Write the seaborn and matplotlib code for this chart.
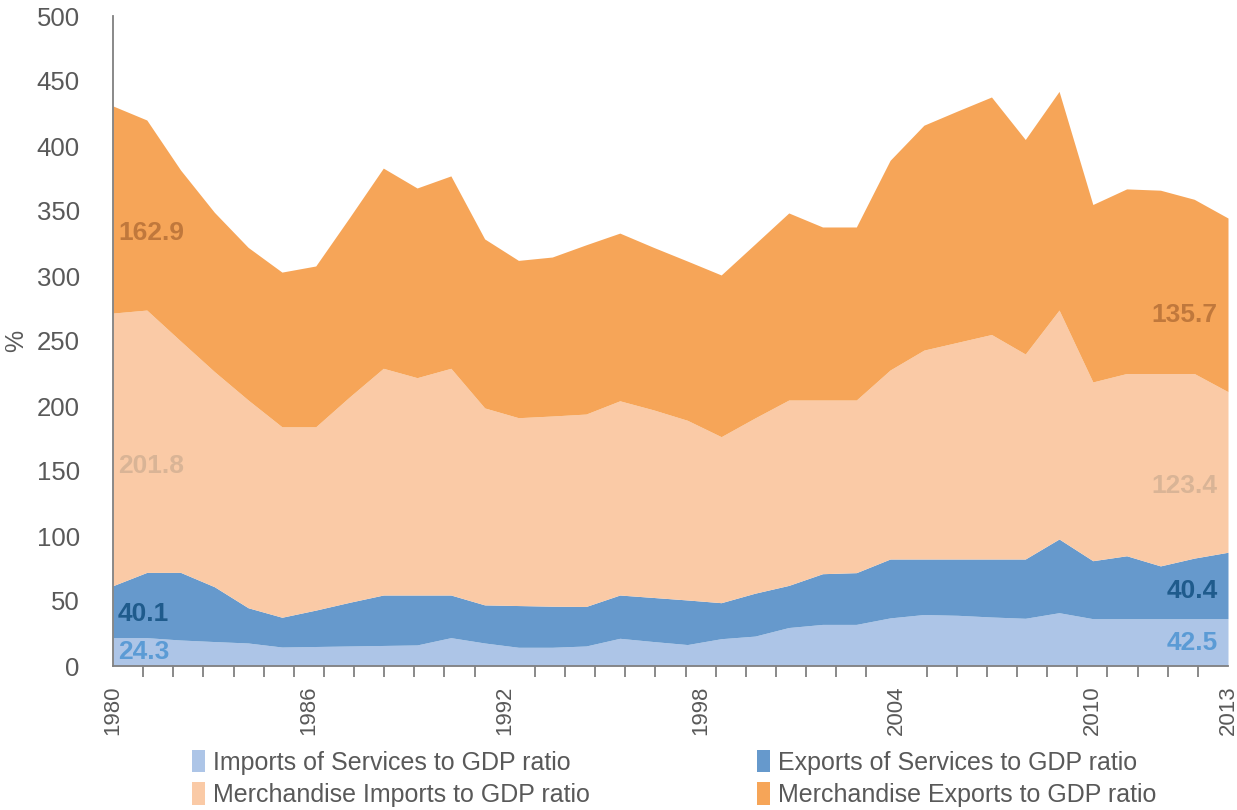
import numpy as np
import pandas as pd
import seaborn as sns
import matplotlib.pyplot as plt

# Data (% of GDP)
years = list(range(1980, 2014))
imports_services = [21.8, 21.8, 20.0, 18.8, 17.7, 14.6, 15.0, 15.4, 15.8, 16.2,
                    21.8, 17.7, 14.4, 14.4, 15.4, 21.3, 18.8, 16.5, 21.0, 23.0,
                    29.6, 32.0, 32.0, 37.0, 39.6, 39.0, 37.7, 36.7, 41.0, 36.4,
                    36.4, 36.4, 36.4, 36.4]
exports_services = [40.0, 50.2, 52.0, 42.2, 27.1, 22.9, 28.0, 33.6, 38.8, 38.4,
                    32.8, 29.3, 32.1, 31.6, 30.4, 33.3, 33.9, 34.3, 27.7, 33.0,
                    32.4, 39.0, 39.8, 45.3, 42.7, 43.3, 44.6, 45.6, 56.7, 44.6,
                    48.4, 40.6, 46.6, 51.1]
merch_imports = [209.7, 201.8, 178.0, 165.5, 159.8, 146.5, 141.0, 158.0, 174.4, 167.2,
                 174.4, 151.5, 144.5, 146.3, 148.0, 149.4, 144.3, 138.2, 127.7, 134.8,
                 142.6, 133.6, 132.8, 145.4, 160.7, 166.7, 172.7, 157.7, 176.1, 137.5,
                 140.2, 148.0, 142.0, 123.5]
merch_exports = [159.3, 146.2, 131.5, 122.5, 117.4, 119.0, 123.7, 138.0, 154.0, 145.9,
                 148.0, 130.0, 121.0, 122.3, 130.2, 129.0, 125.0, 122.5, 124.4, 133.8,
                 143.9, 133.1, 133.1, 161.3, 173.0, 178.0, 182.7, 165.0, 168.2, 136.5,
                 142.0, 141.0, 134.0, 133.6]

series_names = ['Imports of Services to GDP ratio', 'Exports of Services to GDP ratio',
                'Merchandise Imports to GDP ratio', 'Merchandise Exports to GDP ratio']
tick_labels = ['1980', '1986', '1992', '1998', '2004', '2010', '2013']

# annotation values shown on the chart (start / end)
start_labels = ['24.3', '40.1', '201.8', '162.9']
end_labels = ['42.5', '40.4', '123.4', '135.7']

df = pd.DataFrame({'year': years,
                   series_names[0]: imports_services,
                   series_names[1]: exports_services,
                   series_names[2]: merch_imports,
                   series_names[3]: merch_exports})

sns.set_theme(style='white')
plt.rcParams['font.family'] = ['Liberation Sans', 'DejaVu Sans']

fill_colors = ['#adc5e7', '#6699cc', '#facaa6', '#f6a558']
text_colors = ['#5b9bd5', '#1f5b8c', '#d9b496', '#c0783c']
grey = '#595959'

fig = plt.figure(figsize=(12.37, 8.10), dpi=100)
ax = fig.add_axes([113 / 1237, 1 - 666 / 810, 1115 / 1237, 650 / 810])

polys = ax.stackplot(df['year'], [df[n] for n in series_names],
                     colors=fill_colors, labels=series_names, linewidth=0)

ax.set_xlim(1980, 2013)
ax.set_ylim(0, 500)
ax.set_yticks(np.arange(0, 501, 50))
ax.tick_params(axis='y', length=0, labelsize=18.5, labelcolor=grey, pad=24)
ax.set_ylabel('%', fontsize=18, color=grey, labelpad=6)

# Excel-style category axis: 38 tick marks, a label every 6.5 marks
step = (years[-1] - years[0]) / 37
ax.set_xticks(years[0] + np.arange(38) * step, minor=True)
ax.set_xticks(years[0] + np.array([0, 6.5, 13, 19.5, 26, 32.5, 37]) * step)
ax.set_xticklabels(tick_labels, rotation=90)
ax.tick_params(axis='x', which='major', length=0, labelsize=16, labelcolor=grey, pad=14)
ax.tick_params(axis='x', which='minor', length=8, width=1.3, color='#808080', direction='out')
ax.xaxis.set_ticks_position('bottom')

sns.despine(ax=ax, top=True, right=True)
for s in ['left', 'bottom']:
    ax.spines[s].set_color('#808080')
    ax.spines[s].set_linewidth(1.3)

# in-chart value labels
start_y = [11, 40, 154, 333]
end_y = [17.7, 57.7, 138.5, 270]
for i in range(4):
    ax.text(1980.15, start_y[i], start_labels[i], color=text_colors[i], fontsize=19,
            fontweight='bold', ha='left', va='center')
    ax.text(2012.7, end_y[i], end_labels[i], color=text_colors[i], fontsize=19,
            fontweight='bold', ha='right', va='center')

legend_font = {'family': ['Liberation Sans'], 'size': 18}
legend_kw = dict(loc='upper left', frameon=False, prop=legend_font,
                 handlelength=0.5, handleheight=1.0, handletextpad=0.35,
                 labelspacing=0.3, borderaxespad=0, borderpad=0)
h = polys
leg1 = fig.legend([h[0], h[2]], [series_names[0], series_names[2]],
                  bbox_to_anchor=(192 / 1237, 1 - 750 / 810), **legend_kw)
leg2 = fig.legend([h[1], h[3]], [series_names[1], series_names[3]],
                  bbox_to_anchor=(757 / 1237, 1 - 750 / 810), **legend_kw)
for leg in (leg1, leg2):
    for t in leg.get_texts():
        t.set_color(grey)

fig.savefig('out.png', dpi=100)
